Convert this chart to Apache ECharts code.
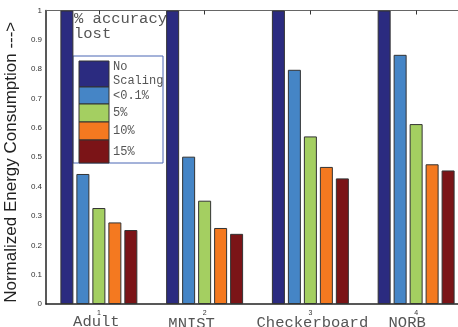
<!DOCTYPE html>
<html>
<head>
<meta charset="utf-8">
<script src="https://cdn.jsdelivr.net/npm/echarts@6/dist/echarts.min.js"></script>
<style>html,body{margin:0;padding:0;background:#fff}#c{width:458px;height:327px}</style>
</head>
<body>
<div id="c"></div>
<script>
const categories = ['Adult', 'MNIST', 'Checkerboard', 'NORB'];
const seriesNames = ['No Scaling', '<0.1%', '5%', '10%', '15%'];
const legendLabels = ['No\nScaling', '<0.1%', '5%', '10%', '15%'];
const noScaling = [1, 1, 1, 1];
const lt01 = [0.443, 0.502, 0.798, 0.849];
const pct5 = [0.327, 0.352, 0.571, 0.613];
const pct10 = [0.278, 0.259, 0.467, 0.476];
const pct15 = [0.252, 0.239, 0.428, 0.455];
const colors = ['#2b2b80', '#4585c6', '#a4cf61', '#f47920', '#7b1417'];
const legendTitle = '% accuracy\nlost';

const values = [noScaling, lt01, pct5, pct10, pct15];
const chart = echarts.init(document.getElementById('c'));

const mono = '"Liberation Mono", "DejaVu Sans Mono", monospace';
const sans = '"Liberation Sans", Arial, sans-serif';

// legend drawn as graphic
const rows = [[61, 87], [87, 104], [104, 122], [122, 140], [140, 163]];
const legendChildren = [
  { type: 'rect', shape: { x: 73, y: 56, width: 90, height: 107 },
    style: { fill: '#fff', stroke: '#4a66b4', lineWidth: 1 } },
  { type: 'text', x: 74, y: 11,
    style: { text: legendTitle, font: '15.5px ' + mono, fill: '#555', lineHeight: 15 } }
];
rows.forEach((r, i) => {
  legendChildren.push({ type: 'rect', shape: { x: 79, y: r[0], width: 30, height: r[1] - r[0] },
    style: { fill: colors[i], stroke: '#333', lineWidth: 1 } });
  legendChildren.push({ type: 'text', x: 113, y: (r[0] + r[1]) / 2,
    style: { text: legendLabels[i], font: '12px ' + mono, fill: '#555', verticalAlign: 'middle', lineHeight: 14 } });
});

const richName = {
  n: { fontSize: 7, lineHeight: 6, color: '#333', fontFamily: sans },
  c0: { fontSize: 15.5, lineHeight: 10, color: '#555', fontFamily: mono, padding: [1, 5, 0, 0] },
  c1: { fontSize: 15.5, lineHeight: 10, color: '#555', fontFamily: mono, padding: [5, 26, 0, 0] },
  c2: { fontSize: 15.5, lineHeight: 10, color: '#555', fontFamily: mono, padding: [3, 0, 0, 4] },
  c3: { fontSize: 15.5, lineHeight: 10, color: '#555', fontFamily: mono, padding: [3, 18, 0, 0] }
};

chart.setOption({
  animation: false,
  backgroundColor: '#fff',
  grid: { left: 46, top: 10.5, height: 293.5, width: 423, outerBoundsMode: 'none', containLabel: false },
  xAxis: [
    {
      type: 'category', data: categories, position: 'bottom',
      axisLine: { lineStyle: { color: '#222', width: 1.5 } },
      axisTick: { show: false },
      axisLabel: {
        margin: 6, interval: 0,
        formatter: (v, i) => '{n|' + (i + 1) + '}\n{c' + i + '|' + v + '}',
        rich: richName
      }
    },
    {
      type: 'category', data: categories, position: 'top',
      axisLine: { lineStyle: { color: '#666', width: 1 } },
      axisTick: { show: true, inside: true, length: 4, alignWithLabel: true, lineStyle: { color: '#333' } },
      axisLabel: { show: false }
    }
  ],
  yAxis: {
    type: 'value', min: 0, max: 1, interval: 0.1,
    name: 'Normalized Energy Consumption --->',
    nameLocation: 'middle', nameGap: 23,
    nameTextStyle: { fontFamily: sans, fontSize: 17, color: '#222', padding: [0, 10, 0, 0] },
    axisLine: { show: true, lineStyle: { color: '#222', width: 1.5 } },
    axisTick: { show: false },
    splitLine: { show: false },
    axisLabel: {
      fontFamily: sans, fontSize: 8, color: '#333', margin: 4,
      formatter: v => (v === 0 ? '0' : v === 1 ? '1' : v.toFixed(1))
    }
  },
  series: values.map((d, i) => ({
    type: 'bar', name: seriesNames[i], data: d,
    barWidth: 13, barGap: '23%',
    itemStyle: { color: colors[i], borderColor: '#333', borderWidth: 1 }
  })),
  graphic: [{ type: 'group', z: 100, children: legendChildren }]
});
</script>
</body>
</html>
